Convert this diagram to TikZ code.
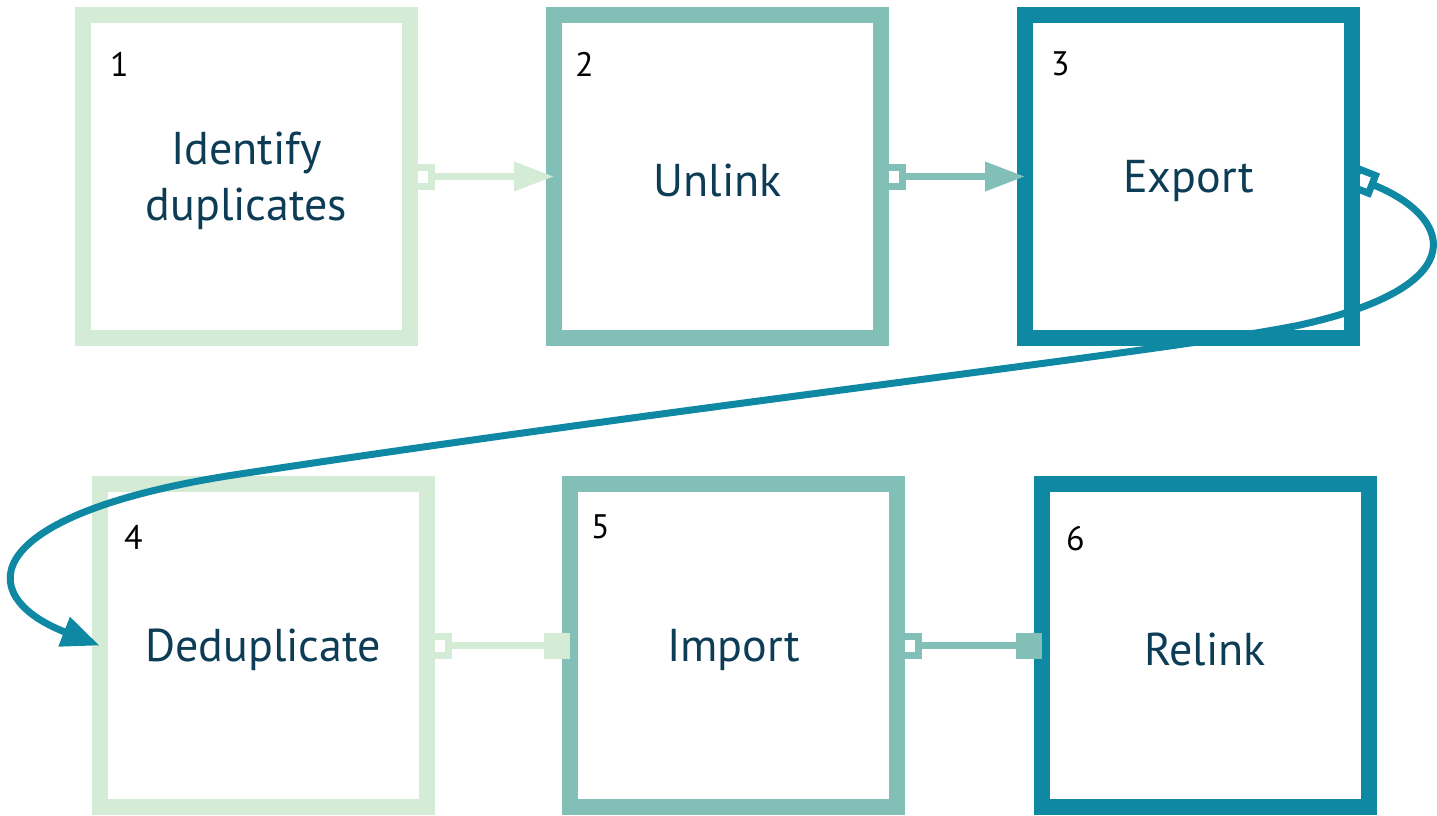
\documentclass[tikz,border=0pt]{standalone}
\usepackage{fontspec}
\setmainfont{PT Sans}
\usetikzlibrary{arrows.meta}
\definecolor{cA}{HTML}{D4EBD6}
\definecolor{cB}{HTML}{82BFB7}
\definecolor{cC}{HTML}{0E88A3}
\definecolor{txt}{HTML}{0D3D56}
\tikzset{
  box/.style={draw=#1, line width=16pt, minimum width=327pt, minimum height=323pt,
    inner sep=0pt, outer sep=0pt, fill=white},
  lbl/.style={inner sep=0pt, text=txt, align=center, yshift=-4pt,
    font=\fontsize{46}{56}\selectfont},
  num/.style={anchor=base west, inner sep=0pt, text=black, font=\fontsize{34}{40}\selectfont},
  conn/.style={draw=#1, line width=7pt},
  osq/.tip={Square[open,length=25pt,width=26pt]},
  tri/.tip={Triangle[length=40pt,width=28pt]},
  fsq/.tip={Square[length=26pt,width=26pt]},
  ctri/.tip={Triangle[length=38pt,width=30pt]}
}
\begin{document}
\begin{tikzpicture}[x=1pt,y=-1pt]
\useasboundingbox (0,0) rectangle (1437,816);
\node[box=cA] (b1) at (246.5,176.5) {};
\node[box=cB] (b2) at (717.5,176.5) {};
\node[box=cC] (b3) at (1188.5,176.5) {};
\node[box=cA] (b4) at (263,645.5) {};
\node[box=cB] (b5) at (733.5,645.5) {};
\node[box=cC] (b6) at (1205,645.5) {};
\node[lbl] (t1) at (b1.center) {Identify\\duplicates};
\node[lbl] (t2) at (b2.center) {Unlink};
\node[lbl] (t3) at (b3.center) {Export};
\node[lbl] (t4) at (b4.center) {Deduplicate};
\node[lbl] (t5) at (b5.center) {Import};
\node[lbl] (t6) at (b6.center) {Relink};
\node[num] (n1) at (110,76) {1};
\node[num] (n2) at (575,76) {2};
\node[num] (n3) at (1051,75) {3};
\node[num] (n4) at (124,549) {4};
\node[num] (n5) at (591,538) {5};
\node[num] (n6) at (1066,550) {6};
\draw[conn=cA, osq-tri] (b1.east) -- (b2.west);
\draw[conn=cB, osq-tri] (b2.east) -- (b3.west);
\draw[conn=cA, osq-fsq] (b4.east) -- (b5.west);
\draw[conn=cB, osq-fsq] (b5.east) -- (b6.west);
\draw[conn=cC, osq-ctri]
  (b3.east) .. controls (1450,215) and (1480,285) .. (1300,325)
  .. controls (1180,350) and (700,404) .. (240,474)
  .. controls (-20,513) and (-30,595) .. (b4.west);
\end{tikzpicture}
\end{document}
